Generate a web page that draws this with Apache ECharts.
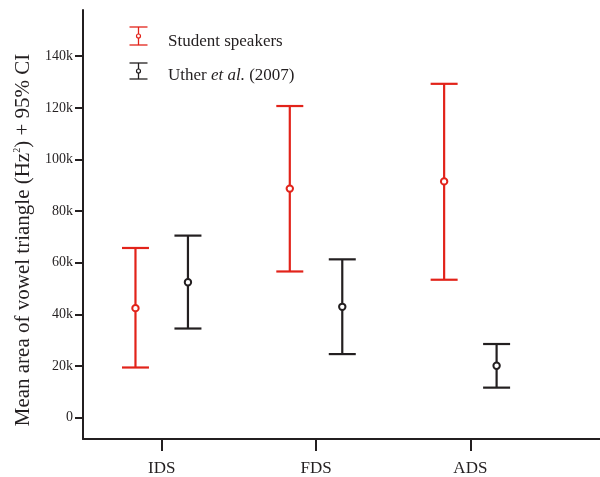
<!DOCTYPE html>
<html>
<head>
<meta charset="utf-8">
<script src="https://cdn.jsdelivr.net/npm/echarts@6/dist/echarts.min.js"></script>
<style>html,body{margin:0;padding:0;background:#fff}#c{width:600px;height:477px}</style>
</head>
<body>
<div id="c"></div>
<script>
const categories = ['IDS', 'FDS', 'ADS'];
const yTicks = [0, 20000, 40000, 60000, 80000, 100000, 120000, 140000];
const studentMean = [42400, 88700, 91500];
const studentLow  = [19400, 56600, 53400];
const studentHigh = [65700, 120700, 129300];
const utherMean = [52400, 42900, 20100];
const utherLow  = [34500, 24600, 11600];
const utherHigh = [70500, 61300, 28500];
const seriesNames = ['Student speakers', 'Uther et al. (2007)'];

const RED = '#e2231a', BLACK = '#231f20';
const FONT = '"Liberation Serif", "Times New Roman", serif';

function build(means, lows, highs, off) {
  return categories.map((c, i) => [i + 1 + off, lows[i], highs[i], means[i]]);
}

function renderBar(color) {
  return function (params, api) {
    const x = api.value(0);
    const lo = api.coord([x, api.value(1)]);
    const hi = api.coord([x, api.value(2)]);
    const m = api.coord([x, api.value(3)]);
    const hw = 13.5;
    const ls = { stroke: color, lineWidth: 2.2 };
    return {
      type: 'group',
      children: [
        { type: 'line', shape: { x1: hi[0], y1: hi[1], x2: lo[0], y2: lo[1] }, style: ls },
        { type: 'line', shape: { x1: hi[0] - hw, y1: hi[1], x2: hi[0] + hw, y2: hi[1] }, style: ls },
        { type: 'line', shape: { x1: lo[0] - hw, y1: lo[1], x2: lo[0] + hw, y2: lo[1] }, style: ls },
        { type: 'circle', shape: { cx: m[0], cy: m[1], r: 3.2 }, style: { fill: '#fff', stroke: color, lineWidth: 2 } }
      ]
    };
  };
}

function legendIcon(cx, top, bottom, color) {
  const hw = 9, mid = (top + bottom) / 2;
  const ls = { stroke: color, lineWidth: 1.3 };
  return [
    { type: 'line', shape: { x1: cx, y1: top, x2: cx, y2: bottom }, style: ls },
    { type: 'line', shape: { x1: cx - hw, y1: top, x2: cx + hw, y2: top }, style: ls },
    { type: 'line', shape: { x1: cx - hw, y1: bottom, x2: cx + hw, y2: bottom }, style: ls },
    { type: 'circle', shape: { cx: cx, cy: mid, r: 2 }, style: { fill: '#fff', stroke: color, lineWidth: 1.2 } }
  ];
}

const chart = echarts.init(document.getElementById('c'), null, { renderer: 'canvas' });
chart.setOption({
  animation: false,
  backgroundColor: '#fff',
  grid: { left: 83, right: 0, top: 10, bottom: 36, containLabel: false },
  xAxis: {
    type: 'value', min: 0.49, max: 3.84,
    splitLine: { show: false },
    axisLine: { show: true, onZero: false, lineStyle: { color: BLACK, width: 2 } },
    axisTick: { show: true, length: 12, lineStyle: { color: BLACK, width: 2 }, customValues: [1, 2, 3] },
    axisLabel: {
      customValues: [1, 2, 3], margin: 21,
      formatter: v => categories[Math.round(v) - 1] || '',
      fontFamily: FONT, fontSize: 17, color: '#231f20'
    }
  },
  yAxis: {
    type: 'value', min: -8300, max: 157900,
    splitLine: { show: false },
    axisLine: { show: true, onZero: false, lineStyle: { color: BLACK, width: 2 } },
    axisTick: { show: true, length: 8, lineStyle: { color: BLACK, width: 2 }, customValues: yTicks },
    axisLabel: {
      customValues: yTicks, margin: 10,
      formatter: v => v === 0 ? '0' : (v / 1000) + 'k',
      fontFamily: FONT, fontSize: 14, color: '#231f20'
    }
  },
  series: [
    { name: seriesNames[0], type: 'custom', renderItem: renderBar(RED),
      encode: { x: 0, y: [1, 2, 3] }, data: build(studentMean, studentLow, studentHigh, -0.17) },
    { name: seriesNames[1], type: 'custom', renderItem: renderBar(BLACK),
      encode: { x: 0, y: [1, 2, 3] }, data: build(utherMean, utherLow, utherHigh, 0.17) }
  ],
  graphic: [
    ...legendIcon(138.5, 27, 45, RED),
    ...legendIcon(138.5, 63, 79, BLACK),
    { type: 'text', x: 168, y: 42, style: { text: seriesNames[0], fontFamily: FONT, fontSize: 17, fill: '#231f20', verticalAlign: 'middle' } },
    { type: 'text', x: 168, y: 76, style: {
        text: 'Uther {i|et al.} (2007)', fontFamily: FONT, fontSize: 17, fill: '#231f20', verticalAlign: 'middle',
        rich: { i: { fontStyle: 'italic', fontFamily: FONT, fontSize: 17, fill: '#231f20' } } } },
    { type: 'text', x: 23, y: 240, rotation: Math.PI / 2, style: {
        text: 'Mean area of vowel triangle (Hz{sup|2}) + 95% CI', fontFamily: FONT, fontSize: 21, fill: '#231f20',
        align: 'center', verticalAlign: 'middle',
        rich: { sup: { fontSize: 10, fontFamily: FONT, fill: '#231f20', verticalAlign: 'top', padding: [0, 0, 10, 0] } } } }
  ]
});
</script>
</body>
</html>
